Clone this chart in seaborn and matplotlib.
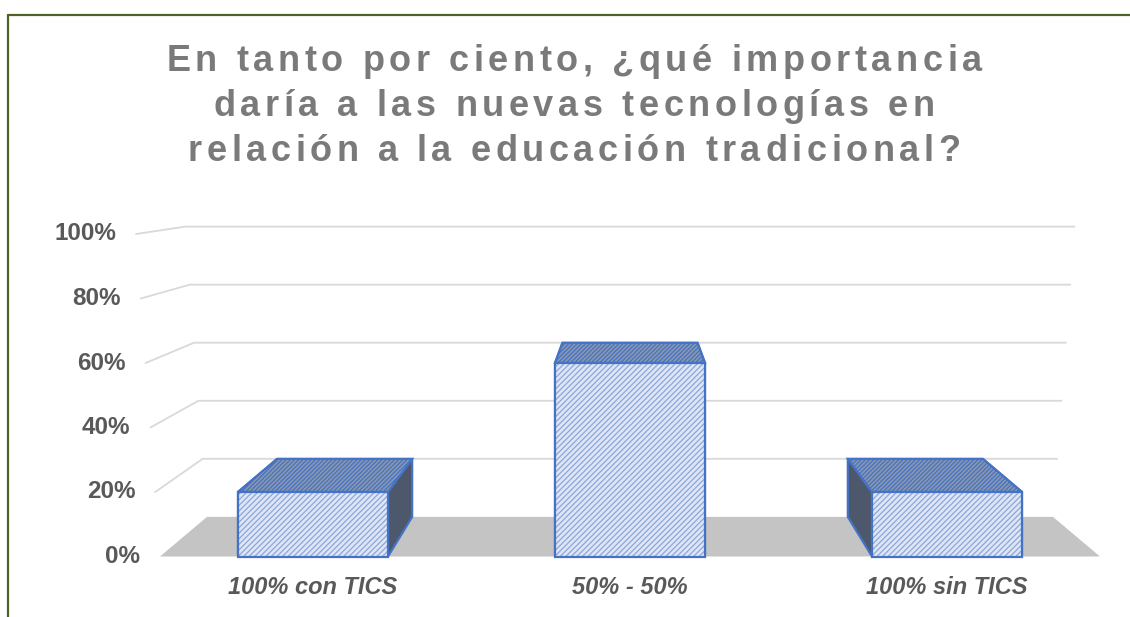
import matplotlib
matplotlib.use('Agg')
import matplotlib.pyplot as plt
import matplotlib.transforms as mtransforms
from matplotlib.patches import Polygon, Rectangle
from matplotlib.lines import Line2D
from matplotlib.font_manager import FontProperties
import seaborn as sns

# Chart data
title_lines = ['En tanto por ciento, ¿qué importancia',
               'daría a las nuevas tecnologías en',
               'relación a la educación tradicional?']
categories = ['100% con TICS', '50% - 50%', '100% sin TICS']
values = [0.20, 0.60, 0.20]
y_ticks = [0.0, 0.2, 0.4, 0.6, 0.8, 1.0]

sns.set_style('white')
plt.rcParams['font.family'] = ['Liberation Sans', 'DejaVu Sans']
plt.rcParams['hatch.linewidth'] = 0.9

W, H = 1130, 617
fig = plt.figure(figsize=(W / 100, H / 100), dpi=100)
fig.patch.set_facecolor('white')

# front plane of the pseudo 3D box, in pixels
ax = fig.add_axes([154.5 / W, (H - 556.5) / H, 951 / W, 322.5 / H])
ax.set_xlim(-0.5, 2.5)
ax.set_ylim(0, 1)

# perspective helpers (vanishing point + depth factor)
xv, yv, depth = 1.0, 1.229, 0.9
D, k = 470 / 317, 0.051


def back(x, y):
    return xv + depth * (x - xv), yv + depth * (y - yv)


# floor
yb0 = back(0, 0)[1]
ax.add_patch(Polygon([(xv - D, 0), (xv + D, 0), (xv + depth * D, yb0), (xv - depth * D, yb0)],
                     closed=True, facecolor='#c4c4c4', edgecolor='none', zorder=0.5, clip_on=False))

# gridlines on side and back walls
for v in y_ticks[1:]:
    s = D * (1 + k * v)
    yb = back(0, v)[1]
    ax.add_line(Line2D([xv - s, xv - depth * s, xv + depth * s], [v, yb, yb],
                       color='#d9d9d9', lw=1.3, zorder=0.3, clip_on=False))

# front faces of the bars
sns.barplot(x=categories, y=values, ax=ax, color='#dce5f6', edgecolor='#8aa6de',
            linewidth=0, hatch='//////', width=0.473, zorder=3)

bars = list(ax.patches)[-len(values):]
for bar in bars:
    x0, w, v = bar.get_x(), bar.get_width(), bar.get_height()
    x1 = x0 + w
    # top face
    top = [(x0, v), (x1, v), back(x1, v), back(x0, v)]
    ax.add_patch(Polygon(top, closed=True, facecolor='#8a97ae', edgecolor='#4472c4',
                         hatch='////////', lw=1.6, zorder=2, clip_on=False))
    # side faces (the hidden one ends up behind the front face)
    for xe in (x0, x1):
        side = [(xe, 0), (xe, v), back(xe, v), back(xe, 0)]
        ax.add_patch(Polygon(side, closed=True, facecolor='#4d586c', edgecolor='#4472c4',
                             lw=1.6, zorder=1.5, clip_on=False))
    # outline of the front face
    ax.add_patch(Rectangle((x0, 0), w, v, facecolor='none', edgecolor='#4472c4',
                           lw=1.6, zorder=4, clip_on=False))

# y labels follow the slanted side wall
lab_tr = mtransforms.offset_copy(ax.transData, fig=fig, x=-20, y=0, units='dots')
for v in y_ticks:
    ax.text(xv - D * (1 + k * v), v, f'{int(round(v * 100))}%', transform=lab_tr,
            ha='right', va='center', fontsize=17.5, fontweight='bold', color='#595959')

ax.set_yticks([])
ax.set_xlabel('')
ax.set_ylabel('')
ax.tick_params(axis='x', length=0, pad=14)
for lbl in ax.get_xticklabels():
    lbl.set_fontsize(17)
    lbl.set_fontweight('bold')
    lbl.set_fontstyle('italic')
    lbl.set_color('#595959')
for sp in ax.spines.values():
    sp.set_visible(False)
ax.patch.set_alpha(0)

# title with wide letter spacing, drawn one character at a time
renderer = fig.canvas.get_renderer()
tprop = FontProperties(family='Liberation Sans', weight='bold', size=26)


def tw(s):
    return renderer.get_text_width_height_descent(s, tprop, ismath=False)[0]


spacing = 4.6
cx = 574
for line, base in zip(title_lines, [71, 116, 161]):
    ref = tw('l')
    offs = [tw(line[:i] + 'l') - ref if i else 0 for i in range(len(line))]
    total = offs[-1] + tw(line[-1]) + spacing * (len(line) - 1)
    left = cx - total / 2
    for i, ch in enumerate(line):
        if ch == ' ':
            continue
        fig.text((left + offs[i] + i * spacing) / W, 1 - base / H, ch, fontproperties=tprop,
                 color='#7a7a7a', ha='left', va='baseline')

# dark green frame (top and left edges visible)
fig.add_artist(Line2D([8 / W, 1], [1 - 15 / H, 1 - 15 / H], transform=fig.transFigure,
                      color='#4f6228', lw=1.6))
fig.add_artist(Line2D([8 / W, 8 / W], [1 - 15 / H, 0], transform=fig.transFigure,
                      color='#4f6228', lw=1.6))

fig.savefig('out.png', dpi=100)
